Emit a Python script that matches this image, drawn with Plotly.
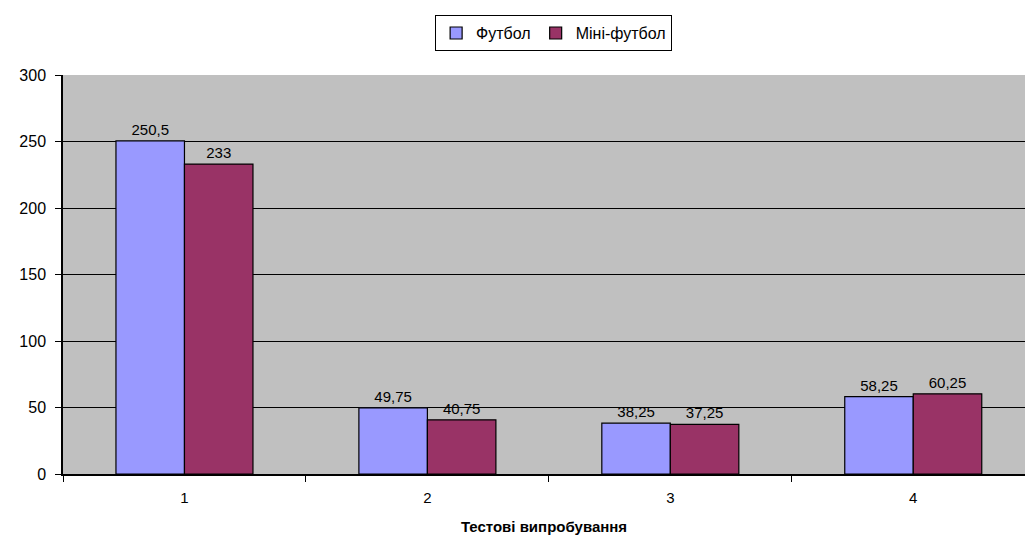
import plotly.graph_objects as go

categories = [1, 2, 3, 4]
tick_labels = ["1", "2", "3", "4"]
football = [250.5, 49.75, 38.25, 58.25]
mini_football = [233, 40.75, 37.25, 60.25]
y_ticks = [0, 50, 100, 150, 200, 250, 300]


def fmt(v):
    return ("%g" % v).replace(".", ",")


fig = go.Figure()
fig.add_trace(go.Bar(
    name="Футбол", x=categories, y=football,
    marker=dict(color="#9999FF", line=dict(color="black", width=1.2)),
    text=[fmt(v) for v in football], textposition="outside",
    textfont=dict(size=15, color="black"), cliponaxis=False,
))
fig.add_trace(go.Bar(
    name="Міні-футбол", x=categories, y=mini_football,
    marker=dict(color="#993366", line=dict(color="black", width=1.2)),
    text=[fmt(v) for v in mini_football], textposition="outside",
    textfont=dict(size=15, color="black"), cliponaxis=False,
))

fig.update_layout(
    width=1027, height=539,
    margin=dict(l=63, r=2, t=75, b=65),
    paper_bgcolor="white", plot_bgcolor="#C0C0C0",
    barmode="group", bargap=0.436, bargroupgap=0,
    font=dict(family="Liberation Sans, Arial, sans-serif", size=15, color="black"),
    legend=dict(
        orientation="h", x=0.51, y=1.105, xanchor="center", yanchor="middle",
        bordercolor="black", borderwidth=1, bgcolor="white",
        font=dict(size=16), traceorder="normal", itemwidth=30,
    ),
    xaxis=dict(
        range=[0.5, 4.46], tickvals=categories, ticktext=tick_labels,
        ticks="", showgrid=False, showline=True, linecolor="black", linewidth=1.5,
        ticklabelstandoff=9, tickfont=dict(size=15), automargin=False,
        minor=dict(tick0=0.5, dtick=1, ticks="outside", ticklen=6,
                   tickcolor="black", showgrid=False),
        title=dict(text="<b>Тестові випробування</b>", font=dict(size=15), standoff=17),
        zeroline=False,
    ),
    yaxis=dict(
        range=[0, 300], tickvals=y_ticks, ticks="outside", ticklen=6,
        tickcolor="black", showgrid=True, gridcolor="black", gridwidth=1,
        showline=True, linecolor="black", linewidth=1.5, zeroline=False,
        tickfont=dict(size=16), ticklabelstandoff=6, automargin=False,
    ),
)

fig.write_html("out.html")
